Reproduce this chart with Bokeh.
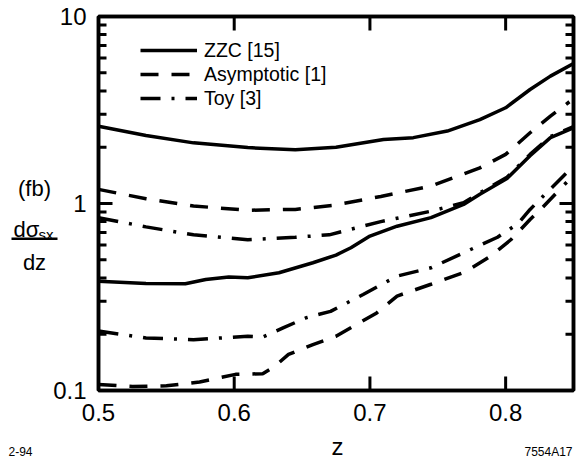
import math

from bokeh.embed import file_html
from bokeh.models import (BoxAnnotation, CustomJSTickFormatter, FixedTicker, Label,
                          Legend, LegendItem, LinearAxis, LogAxis, Range1d)
from bokeh.plotting import figure
from bokeh.resources import INLINE

FONT = "Liberation Sans"
W, H = 578, 458

# ---------------- data ----------------
# ZZC [15] (solid), upper and lower bands
zzc_hi_z = [0.50, 0.535, 0.57, 0.61, 0.645, 0.675, 0.71, 0.732, 0.757, 0.781, 0.80, 0.818, 0.833, 0.85]
zzc_hi_v = [2.59, 2.31, 2.11, 1.99, 1.94, 2.00, 2.20, 2.25, 2.44, 2.81, 3.25, 4.07, 4.80, 5.60]

zzc_lo_z = [0.50, 0.535, 0.564, 0.579, 0.596, 0.61, 0.633, 0.658, 0.675, 0.686, 0.70, 0.72,
            0.745, 0.769, 0.781, 0.801, 0.818, 0.833, 0.85]
zzc_lo_v = [0.384, 0.373, 0.372, 0.392, 0.405, 0.401, 0.426, 0.482, 0.530, 0.580, 0.670, 0.756,
            0.840, 0.988, 1.12, 1.36, 1.80, 2.25, 2.54]

# Asymptotic [1] (dashed)
asy_hi_z = [0.50, 0.535, 0.57, 0.61, 0.645, 0.672, 0.708, 0.745, 0.781, 0.80, 0.818, 0.833, 0.847]
asy_hi_v = [1.19, 1.06, 0.97, 0.92, 0.93, 0.975, 1.09, 1.24, 1.55, 1.83, 2.39, 2.93, 3.50]

asy_lo_z = [0.50, 0.525, 0.55, 0.5745, 0.601, 0.621, 0.63, 0.64, 0.658, 0.675, 0.69, 0.705,
            0.72, 0.745, 0.77, 0.789, 0.804, 0.818, 0.827, 0.845]
asy_lo_v = [0.1076, 0.105, 0.106, 0.111, 0.122, 0.123, 0.135, 0.156, 0.176, 0.195, 0.225, 0.26,
            0.32, 0.37, 0.43, 0.523, 0.642, 0.821, 0.95, 1.30]

# Toy [3] (dash-dot)
toy_hi_z = [0.50, 0.535, 0.57, 0.61, 0.645, 0.67, 0.708, 0.745, 0.769, 0.781, 0.801, 0.818, 0.833, 0.85]
toy_hi_v = [0.84, 0.75, 0.68, 0.64, 0.66, 0.68, 0.80, 0.91, 1.01, 1.14, 1.38, 1.83, 2.28, 2.58]

toy_lo_z = [0.50, 0.535, 0.57, 0.61, 0.621, 0.636, 0.653, 0.671, 0.695, 0.72, 0.745, 0.769,
            0.794, 0.809, 0.818, 0.828, 0.845]
toy_lo_v = [0.208, 0.191, 0.187, 0.195, 0.193, 0.216, 0.245, 0.265, 0.326, 0.409, 0.453, 0.545,
            0.660, 0.780, 0.930, 1.10, 1.46]

x_ticks = [0.5, 0.6, 0.7, 0.8]
x_tick_labels = ["0.5", "0.6", "0.7", "0.8"]
y_ticks = [0.1, 1, 10]
y_tick_labels = ["0.1", "1", "10"]
y_minor = [m * 10.0 ** e for e in (-1, 0) for m in range(2, 10)]

X0, X1 = 0.5, 0.85
Y0, Y1 = 0.1, 10

# ---------------- main figure ----------------
FRAME_LEFT, FRAME_TOP, FRAME_RIGHT, FRAME_BOTTOM = 98, 16, 573, 390

p = figure(width=W, height=H, x_range=Range1d(X0, X1), y_range=Range1d(Y0, Y1),
           y_axis_type="log", output_backend="svg", toolbar_location=None,
           min_border_left=FRAME_LEFT, min_border_right=W - FRAME_RIGHT,
           min_border_top=FRAME_TOP, min_border_bottom=H - FRAME_BOTTOM)
p.grid.visible = False
p.outline_line_color = "black"
p.outline_line_width = 3.5
p.background_fill_color = "white"
p.border_fill_color = "white"


def label_formatter(tick_values, tick_labels):
    return CustomJSTickFormatter(
        args=dict(tvals=tick_values, tlabels=tick_labels),
        code="""
        for (let i = 0; i < tvals.length; i++) {
            if (Math.abs(tick - tvals[i]) < 1e-9 * Math.max(1, tvals[i])) return tlabels[i];
        }
        return "";
        """)


def style_axis(ax, show_labels):
    ax.axis_line_width = 3.5
    ax.axis_line_color = "black"
    ax.major_tick_in = 0
    ax.major_tick_out = 0
    ax.minor_tick_in = 0
    ax.minor_tick_out = 0
    ax.major_label_text_font = FONT
    ax.major_label_text_font_size = "24px" if show_labels else "0px"
    ax.major_label_text_color = "black"
    if not show_labels:
        ax.major_label_standoff = 0


left = p.yaxis[0]
left.ticker = FixedTicker(ticks=y_ticks, minor_ticks=y_minor)
left.formatter = label_formatter(y_ticks, y_tick_labels)
style_axis(left, True)
left.major_label_standoff = 12

right = LogAxis(ticker=FixedTicker(ticks=y_ticks, minor_ticks=[]),
                formatter=label_formatter(y_ticks, ["", "", ""]))
style_axis(right, False)
p.add_layout(right, "right")

bottom = p.xaxis[0]
bottom.ticker = FixedTicker(ticks=x_ticks, minor_ticks=[])
bottom.formatter = label_formatter(x_ticks, x_tick_labels)
style_axis(bottom, True)
bottom.major_label_standoff = 13

top = LinearAxis(ticker=FixedTicker(ticks=x_ticks, minor_ticks=[]),
                 formatter=label_formatter(x_ticks, ["", "", "", ""]))
style_axis(top, False)
p.add_layout(top, "above")

# ---------------- curves ----------------
LW = 3.5
DASH = "18 13"
DASHDOT = "20 11 3 11"

r_toy_hi = p.line(toy_hi_z, toy_hi_v, line_width=LW, color="black", line_dash=DASHDOT)
r_toy_lo = p.line(toy_lo_z, toy_lo_v, line_width=LW, color="black", line_dash=DASHDOT)
r_asy_hi = p.line(asy_hi_z, asy_hi_v, line_width=LW, color="black", line_dash=DASH)
r_asy_lo = p.line(asy_lo_z, asy_lo_v, line_width=LW, color="black", line_dash=DASH)
r_zzc_hi = p.line(zzc_hi_z, zzc_hi_v, line_width=LW, color="black", line_join="round")
r_zzc_lo = p.line(zzc_lo_z, zzc_lo_v, line_width=LW, color="black", line_join="round")

# ---------------- inward tick marks on all four sides ----------------
TICK_W = 3
MAJOR_PX, MINOR_PX = 14, 8
dx_per_px = (X1 - X0) / (FRAME_RIGHT - FRAME_LEFT)
dlog_per_px = (math.log10(Y1) - math.log10(Y0)) / (FRAME_BOTTOM - FRAME_TOP)
y_major_inner = [t for t in y_ticks if Y0 < t < Y1]
x_major_inner = [t for t in x_ticks if X0 < t < X1]

tick_xs, tick_ys = [], []
for xpos, sign in ((X0, 1), (X1, -1)):
    for vals, px in ((y_major_inner, MAJOR_PX), (y_minor, MINOR_PX)):
        for v in vals:
            tick_xs.append([xpos, xpos + sign * px * dx_per_px])
            tick_ys.append([v, v])
for ypos, sign in ((Y0, 1), (Y1, -1)):
    for v in x_major_inner:
        tick_xs.append([v, v])
        tick_ys.append([ypos, ypos * 10 ** (sign * MAJOR_PX * dlog_per_px)])
p.multi_line(xs=tick_xs, ys=tick_ys, line_width=TICK_W, color="black")

legend = Legend(
    items=[LegendItem(label="ZZC [15]", renderers=[r_zzc_hi]),
           LegendItem(label="Asymptotic [1]", renderers=[r_asy_hi]),
           LegendItem(label="Toy [3]", renderers=[r_toy_hi])],
    location=(42, 280), glyph_width=57, glyph_height=24, label_height=24,
    label_standoff=7, spacing=0, padding=0, margin=0,
    border_line_alpha=0, background_fill_alpha=0,
    label_text_font=FONT, label_text_font_size="19.5px", label_text_color="black")
p.add_layout(legend)

# ---------------- text sheet: a transparent figure over the whole canvas ----------------
notes = figure(width=W, height=H, x_range=Range1d(0, W), y_range=Range1d(0, H),
               output_backend="svg", toolbar_location=None, min_border=0,
               x_axis_location=None, y_axis_location=None)
notes.grid.visible = False
notes.outline_line_color = None
notes.background_fill_alpha = 0
notes.border_fill_alpha = 0
notes.styles = {"position": "absolute", "left": "0px", "top": "0px"}


def put(t, cx, cy, size, align="left"):
    # cx, cy: pixel position from the top-left corner, cy is the text baseline
    notes.add_layout(Label(x=cx, y=H - cy, text=t, text_font=FONT, text_font_size=size,
                           text_color="black", text_align=align,
                           text_baseline="alphabetic"))


put("z", 337, 446, "24px", align="center")
put("2-94", 8, 451, "12px")
put("7554A17", 572, 451, "12px", align="right")

# y title in the left margin: (fb) above the fraction  dσ_sx / dz
put("(fb)", 34, 188, "22px", align="center")
put("dσ", 13, 229, "22px")
put("sx", 38, 234, "15px")
put("dz", 34, 262, "22px", align="center")
notes.add_layout(BoxAnnotation(left=11, right=57, top=H - 237, bottom=H - 239.5,
                               fill_color="black", fill_alpha=1.0, line_alpha=0))

open("out.html", "w").write(file_html([p, notes], INLINE))
